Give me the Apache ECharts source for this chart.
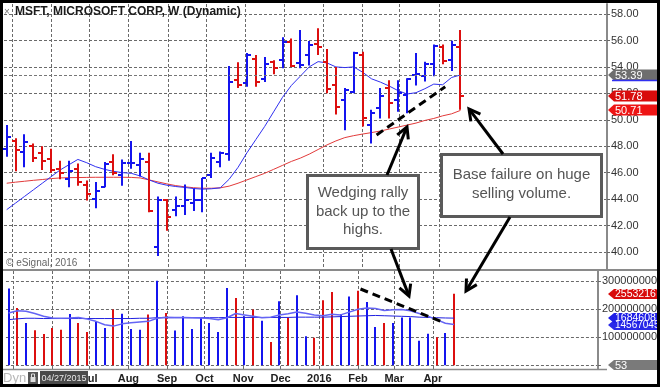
<!DOCTYPE html>
<html><head><meta charset="utf-8">
<script src="https://cdn.jsdelivr.net/npm/echarts@6/dist/echarts.min.js"></script>
<style>html,body{margin:0;padding:0;background:#fff;}#c{width:660px;height:387px;}</style>
</head><body><div id="c"></div><script>
// ---- data ----
const weeks = ['2015-04-27','2015-05-04','2015-05-11','2015-05-18','2015-05-25','2015-06-01','2015-06-08','2015-06-15','2015-06-22','2015-06-29',
'2015-07-06','2015-07-13','2015-07-20','2015-07-27','2015-08-03','2015-08-10','2015-08-17','2015-08-24','2015-08-31','2015-09-07',
'2015-09-14','2015-09-21','2015-09-28','2015-10-05','2015-10-12','2015-10-19','2015-10-26','2015-11-02','2015-11-09','2015-11-16',
'2015-11-23','2015-11-30','2015-12-07','2015-12-14','2015-12-21','2015-12-28','2016-01-04','2016-01-11','2016-01-18','2016-01-25',
'2016-02-01','2016-02-08','2016-02-15','2016-02-22','2016-02-29','2016-03-07','2016-03-14','2016-03-21','2016-03-28','2016-04-04',
'2016-04-11','2016-04-18'];
const opens  = [47.8,48.4,47.6,48.0,47.5,47.0,46.3,45.5,46.3,45.1, 44.0,44.9,46.8,45.8,46.7,46.6,46.8,40.4,43.9,43.2, 43.5,43.7,43.9,45.8,46.8,47.4,53.0,52.8,54.6,53.1, 54.4,54.55,55.9,54.3,54.9,55.75,54.4,52.6,51.5,52.1, 54.9,49.6,50.9,52.4,51.5,51.9,53.4,53.3,54.2,55.5, 54.5,55.5];
const highs  = [49.6,48.6,48.9,48.2,48.0,47.8,46.9,46.9,46.7,45.4, 45.3,46.8,47.4,47.0,48.4,47.5,47.5,44.2,44.0,44.2, 45.1,44.8,45.6,47.5,47.6,54.07,54.35,55.05,54.9,54.75, 54.5,56.25,56.15,56.79,55.97,56.92,55.35,54.0,52.4,55.15, 55.15,50.75,52.4,53.0,53.0,53.15,55.05,54.4,55.7,55.7, 55.98,56.8];
const lows   = [47.2,46.1,46.4,46.8,46.2,46.0,45.5,44.9,45.0,43.9, 43.3,44.9,45.8,45.0,46.3,45.7,43.0,39.7,41.6,42.7, 42.8,43.1,43.0,45.6,46.4,46.9,52.4,52.5,52.5,52.85, 53.45,53.9,54.0,53.9,54.1,54.9,52.0,50.4,49.2,52.0, 49.5,48.2,50.1,50.1,50.6,50.5,52.6,52.9,53.3,54.2, 53.7,50.75];
const closes = [48.66,47.75,48.30,47.1,46.9,46.2,46.0,46.1,45.3,44.4, 44.6,46.62,45.94,46.70,46.74,47.00,43.07,43.93,42.61,43.48, 43.92,43.94,45.57,47.11,47.51,52.87,52.64,54.92,52.84,54.19, 53.93,55.91,54.06,54.13,55.67,55.48,52.33,50.99,52.29,55.09, 50.16,50.50,51.82,51.30,52.03,53.07,53.49,54.21,55.57,54.42, 55.65,51.78];
const priceMaFast = [43.2,43.7,44.2,44.7,45.2,45.7,46.2,46.6,47.0,46.75, 46.45,46.25,46.1,46.0,45.95,45.75,45.45,45.2,45.05,44.95, 44.88,44.8,44.75,44.78,44.85,45.5,46.4,47.5,48.5,49.5, 50.6,51.7,52.6,53.3,54.0,54.4,54.3,54.0,53.95,54.0, 53.6,53.1,52.85,52.55,52.2,51.95,52.05,52.35,52.7,52.65, 53.2,53.39];
const priceMaSlow = [45.2,45.28,45.35,45.42,45.48,45.55,45.6,45.62,45.63,45.64, 45.65,45.65,45.65,45.65,45.64,45.6,45.45,45.3,45.15,45.02, 44.93,44.86,44.82,44.82,44.85,44.98,45.2,45.45,45.7,45.95, 46.25,46.55,46.85,47.1,47.4,47.75,48.1,48.4,48.65,48.8, 48.92,49.03,49.15,49.3,49.45,49.6,49.75,49.95,50.1,50.3, 50.45,50.71];
// volume in millions of shares
const volumes = [274,205,151,125,112,133,127,183,151,119, 155,133,199,184,130,127,181,302,187,124, 175,130,169,151,119,276,240,175,199,159, 83,229,171,250,104,98,232,262,183,246, 266,226,137,151,151,171,171,88,113,100, 115,255.321678];
const volMaFast = [187,195,193,185,175,169,168,169,171,165, 157,145,140,148,152,155,157,168,172,171, 171,170,169,167,163,170,185,180,175,170, 172,180,184,190,186,180,177,182,180,190, 200,205,203,196,198,199,195,185,175,163, 150,145.670453];
const volMaSlow = [163,166,168,168,167,167,167,167,167,167, 167,167,167,167,167,168,168,170,170,170, 170,170,170,170,170,171,171,171,171,171, 171,171,171,172,172,172,172,173,174,175, 176,177,178,177,176,175,174,172,171,170, 169,168.460815];
const monthTicks = ['2015-05-01','2015-06-01','2015-07-01','2015-08-01','2015-09-01','2015-10-01','2015-11-01','2015-12-01','2016-01-01','2016-02-01','2016-03-01','2016-04-01'];
const monthLabels = ['May','Jun','Jul','Aug','Sep','Oct','Nov','Dec','2016','Feb','Mar','Apr'];
const priceTicks = [40,42,44,46,48,50,52,54,56,58];
const volumeTicks = [100000000,200000000,300000000];
const volumeGridTicks = [0,100000000,200000000,300000000];
const titleText = 'MSFT, MICROSOFT CORP, W (Dynamic)';
const barCountLabel = '53';
const startDateLabel = '04/27/2015';

// ---- build ----
const DAY = 864e5;
const ts = s => new Date(s + 'T00:00:00Z').getTime();
const wT = weeks.map(ts);
const mT = monthTicks.map(ts);
const xMin = wT[0] - 2.12 * DAY, xMax = xMin + 474.4 * DAY;
const UP = '#1414ee', DOWN = '#dc0f0f';
const upFlags = closes.map((c, i) => (i === 0 ? 1 : (c >= closes[i - 1] ? 1 : 0)));
const ohlcData = wT.map((t, i) => [t, opens[i], highs[i], lows[i], closes[i], upFlags[i]]);
const volData = wT.map((t, i) => [t, volumes[i] * 1e6, upFlags[i]]);
const FONT = 'Arial, "Liberation Sans", sans-serif';
const gridLine = {show: true, lineStyle: {color: '#6a6a6a', type: [3, 2], width: 1}};

const chart = echarts.init(document.getElementById('c'), null, {renderer: 'canvas'});
const xBase = {type: 'value', min: xMin, max: xMax, splitLine: gridLine,
  axisTick: {show: false, customValues: mT}, axisLine: {show: false}};
chart.setOption({
  animation: false,
  backgroundColor: '#fff',
  grid: [{left: 4, right: 53, top: 4, height: 265}, {left: 4, right: 53, top: 271, height: 98}],
  xAxis: [
    Object.assign({}, xBase, {gridIndex: 0, axisLabel: {show: false, customValues: mT}}),
    Object.assign({}, xBase, {gridIndex: 1, axisLabel: {show: true, customValues: mT, margin: 4,
      color: '#222', fontFamily: FONT, fontSize: 11, fontWeight: 'bold',
      formatter: v => { let k = 0, d = Infinity; mT.forEach((m, i) => { if (Math.abs(m - v) < d) { d = Math.abs(m - v); k = i; } }); return monthLabels[k]; }}})
  ],
  yAxis: [
    {type: 'value', gridIndex: 0, position: 'right', min: 38.71, max: 58.76,
      axisLine: {show: true, lineStyle: {color: '#8a8a8a', width: 2}},
      axisTick: {show: true, length: 3, customValues: priceTicks, lineStyle: {color: '#666'}},
      axisLabel: {customValues: priceTicks, margin: 4, color: '#333', fontFamily: FONT, fontSize: 11, formatter: v => v.toFixed(2)},
      splitLine: gridLine},
    {type: 'value', gridIndex: 1, position: 'right', min: -13.2e6, max: 336.8e6,
      axisLine: {show: true, lineStyle: {color: '#8a8a8a', width: 2}},
      axisTick: {show: true, length: 3, customValues: volumeGridTicks, lineStyle: {color: '#666'}},
      axisLabel: {customValues: volumeTicks, margin: 4, color: '#333', fontFamily: FONT, fontSize: 11, formatter: v => String(Math.round(v))},
      splitLine: gridLine}
  ],
  series: [
    {type: 'line', xAxisIndex: 0, yAxisIndex: 0, data: wT.map((t, i) => [t, priceMaSlow[i]]), showSymbol: false, z: 2,
      lineStyle: {color: '#e23a3a', width: 1}},
    {type: 'line', xAxisIndex: 0, yAxisIndex: 0, data: wT.map((t, i) => [t, priceMaFast[i]]), showSymbol: false, z: 2,
      lineStyle: {color: '#3030f0', width: 1},
      markLine: {silent: true, symbol: 'none', label: {show: false}, data: [
        {yAxis: priceMaFast[priceMaFast.length - 1], lineStyle: {color: '#777', type: [3, 2], width: 1}},
        [{coord: [ts('2016-02-12'), 48.85]}, {coord: [ts('2016-04-06'), 52.5], lineStyle: {color: '#000', type: [8, 5], width: 3}}]
      ], lineStyle: {color: '#000', type: [8, 5], width: 3}}},
    {type: 'custom', xAxisIndex: 0, yAxisIndex: 0, data: ohlcData, z: 3,
      encode: {x: 0, y: [1, 2, 3, 4]},
      renderItem: (params, api) => {
        const t = api.value(0);
        const pO = api.coord([t, api.value(1)]), pH = api.coord([t, api.value(2)]);
        const pL = api.coord([t, api.value(3)]), pC = api.coord([t, api.value(4)]);
        const x = Math.round(pH[0]);
        const col = api.value(5) ? UP : DOWN;
        const st = {stroke: col, lineWidth: 2};
        return {type: 'group', children: [
          {type: 'line', shape: {x1: x, y1: pH[1], x2: x, y2: pL[1]}, style: st},
          {type: 'line', shape: {x1: x - 4, y1: Math.round(pO[1]), x2: x, y2: Math.round(pO[1])}, style: st},
          {type: 'line', shape: {x1: x, y1: Math.round(pC[1]), x2: x + 4, y2: Math.round(pC[1])}, style: st}
        ]};
      }},
    {type: 'custom', xAxisIndex: 1, yAxisIndex: 1, data: volData, z: 3,
      encode: {x: 0, y: 1},
      renderItem: (params, api) => {
        const t = api.value(0);
        const p0 = api.coord([t, 0]), p1 = api.coord([t, api.value(1)]);
        const x = Math.round(p0[0]);
        return {type: 'line', shape: {x1: x, y1: p0[1], x2: x, y2: p1[1]}, style: {stroke: api.value(2) ? UP : DOWN, lineWidth: 2}};
      }},
    {type: 'line', xAxisIndex: 1, yAxisIndex: 1, data: wT.map((t, i) => [t, volMaSlow[i] * 1e6]), showSymbol: false, z: 4,
      lineStyle: {color: '#2020e0', width: 1}},
    {type: 'line', xAxisIndex: 1, yAxisIndex: 1, data: wT.map((t, i) => [t, volMaFast[i] * 1e6]), showSymbol: false, z: 4,
      lineStyle: {color: '#6464f4', width: 1.5},
      markLine: {silent: true, symbol: 'none', label: {show: false},
        lineStyle: {color: '#000', type: [8, 5], width: 3},
        data: [[{coord: [ts('2016-02-03'), 272.5e6]}, {coord: [ts('2016-04-10'), 152e6]}]]}}
  ]
});

// ---- overlays (annotations, tags, frame) ----
const g = [];
const Z = 50;
function line(x1, y1, x2, y2, color, w, z) { g.push({type: 'line', z: z || Z, shape: {x1, y1, x2, y2}, style: {stroke: color, lineWidth: w}}); }
function arrow(x1, y1, x2, y2) {
  const a = Math.atan2(y2 - y1, x2 - x1), L = 11, W = 6;
  const bx = x2 - L * Math.cos(a), by = y2 - L * Math.sin(a);
  const px = -Math.sin(a) * W, py = Math.cos(a) * W;
  line(x1, y1, x2 - 1.5 * Math.cos(a), y2 - 1.5 * Math.sin(a), '#000', 3, Z + 2);
  g.push({type: 'polyline', z: Z + 2, shape: {points: [[bx + px, by + py], [x2, y2], [bx - px, by - py]]}, style: {stroke: '#000', lineWidth: 3, fill: null}});
}
function box(x, y, w, h, lines, cy, lh) {
  g.push({type: 'rect', z: Z + 1, shape: {x, y, width: w, height: h}, style: {fill: '#fff', stroke: '#5a5a5a', lineWidth: 3}});
  lines.forEach((s, i) => g.push({type: 'text', z: Z + 1, style: {text: s, x: x + w / 2, y: cy + i * lh, align: 'center', verticalAlign: 'middle', fill: '#555', font: '15px ' + FONT}}));
}
function tag(yAxisIndex, value, text, fill, h, fontSize) {
  const y = Math.round(chart.convertToPixel({yAxisIndex}, value));
  g.push({type: 'polygon', z: Z + 5, shape: {points: [[608, y], [614, y - h / 2], [662, y - h / 2], [662, y + h / 2], [614, y + h / 2]]}, style: {fill}});
  g.push({type: 'text', z: Z + 6, style: {text, x: 615, y: y + 0.5, verticalAlign: 'middle', fill: '#fff', font: fontSize + 'px ' + FONT}});
  return y;
}
// arrows
arrow(387, 175, 407, 127);
arrow(391, 249, 409, 296);
arrow(503, 154, 469, 109);
arrow(510, 217, 466, 291);
// text boxes
box(307.5, 175.5, 111, 73, ['Wedging rally', 'back up to the', 'highs.'], 193, 18.5);
box(441.5, 154.5, 160, 62, ['Base failure on huge', 'selling volume.'], 175, 18.5);
// titles
g.push({type: 'text', z: Z, style: {text: titleText, x: 15, y: 12, verticalAlign: 'middle', fill: '#1a1a1a', font: 'bold 12px ' + FONT}});
g.push({type: 'text', z: Z, style: {text: '×', x: 4, y: 12, verticalAlign: 'middle', fill: '#777', font: '10px ' + FONT}});
g.push({type: 'text', z: Z, style: {text: '© eSignal, 2016', x: 6, y: 263, verticalAlign: 'middle', fill: '#666', font: '10px ' + FONT}});
// panel separators
line(3, 270, 657, 270, '#8a8a8a', 2, Z - 10);
line(3, 369.5, 607, 369.5, '#8a8a8a', 1.5, Z - 10);
// date strip bottom-left
g.push({type: 'rect', z: Z, shape: {x: 3, y: 371, width: 37, height: 14}, style: {fill: '#fff'}});
g.push({type: 'text', z: Z, style: {text: 'Dyn', x: 3, y: 378.5, verticalAlign: 'middle', fill: '#b8b8b8', font: '13px ' + FONT}});
g.push({type: 'rect', z: Z, shape: {x: 28, y: 372, width: 10, height: 12}, style: {fill: '#555'}});
g.push({type: 'rect', z: Z + 1, shape: {x: 30.5, y: 377, width: 5, height: 5}, style: {fill: '#ddd'}});
g.push({type: 'rect', z: Z + 1, shape: {x: 31.5, y: 374, width: 3, height: 4}, style: {fill: null, stroke: '#ddd', lineWidth: 1}});
g.push({type: 'rect', z: Z, shape: {x: 40, y: 371, width: 48, height: 14}, style: {fill: '#4a4a4a'}});
g.push({type: 'text', z: Z + 1, style: {text: startDateLabel, x: 64, y: 378.5, align: 'center', verticalAlign: 'middle', fill: '#e8e8e8', font: '9px ' + FONT}});
// price tags
const yMa = tag(0, priceMaFast[priceMaFast.length - 1], priceMaFast[priceMaFast.length - 1].toFixed(2), '#6e6e6e', 11, 11);
line(612, yMa + 5.5, 660, yMa + 5.5, '#3030f0', 1.5, Z + 7);
tag(0, closes[closes.length - 1], closes[closes.length - 1].toFixed(2), '#d80c0c', 11, 11);
tag(0, priceMaSlow[priceMaSlow.length - 1], priceMaSlow[priceMaSlow.length - 1].toFixed(2), '#ee1414', 11, 11);
// volume tags
tag(1, volMaFast[volMaFast.length - 1] * 1e6, String(Math.round(volMaFast[volMaFast.length - 1] * 1e6)), '#2a2ae8', 10, 10);
tag(1, volMaSlow[volMaSlow.length - 1] * 1e6, String(Math.round(volMaSlow[volMaSlow.length - 1] * 1e6)), '#1e1ee6', 10, 10.5);
tag(1, volumes[volumes.length - 1] * 1e6, String(Math.round(volumes[volumes.length - 1] * 1e6)), '#d80c0c', 10, 10.5);
tag(1, 0, barCountLabel, '#7a7a7a', 10, 11);
// outer frame
g.push({type: 'rect', z: Z + 20, shape: {x: 0, y: 0, width: 660, height: 387}, style: {fill: null, stroke: '#000', lineWidth: 6}});
chart.setOption({graphic: g});
</script></body></html>
